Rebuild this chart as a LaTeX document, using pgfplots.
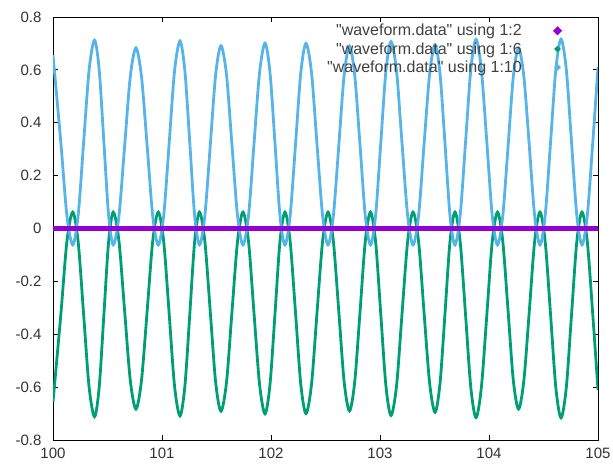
\documentclass[border=0pt]{standalone}
\usepackage{pgfplots}
\pgfplotsset{compat=1.18}
\usepackage{pgfplotstable}
\usepackage{fontspec}
\setmainfont{Liberation Sans}
\usetikzlibrary{calc}

\definecolor{gpPurple}{HTML}{9400D3}
\definecolor{gpGreen}{HTML}{009E73}
\definecolor{gpBlue}{HTML}{56B4E9}

\pgfplotstableread{
x y6 y10
100.000 -0.656 0.656
100.072 -0.325 0.325
100.127 -0.051 0.051
100.181 0.062 -0.062
100.231 -0.051 0.051
100.281 -0.325 0.325
100.331 -0.599 0.599
100.381 -0.712 0.712
100.424 -0.599 0.599
100.467 -0.325 0.325
100.510 -0.051 0.051
100.553 0.062 -0.062
100.605 -0.047 0.047
100.657 -0.311 0.311
100.709 -0.574 0.574
100.761 -0.683 0.683
100.812 -0.574 0.574
100.864 -0.311 0.311
100.915 -0.047 0.047
100.966 0.062 -0.062
101.016 -0.051 0.051
101.066 -0.324 0.324
101.115 -0.596 0.596
101.165 -0.709 0.709
101.210 -0.596 0.596
101.255 -0.324 0.324
101.299 -0.051 0.051
101.344 0.062 -0.062
101.393 -0.048 0.048
101.443 -0.315 0.315
101.492 -0.581 0.581
101.541 -0.691 0.691
101.592 -0.581 0.581
101.642 -0.315 0.315
101.693 -0.048 0.048
101.743 0.062 -0.062
101.794 -0.050 0.050
101.844 -0.320 0.320
101.895 -0.589 0.589
101.945 -0.701 0.701
101.991 -0.589 0.589
102.037 -0.320 0.320
102.082 -0.050 0.050
102.128 0.062 -0.062
102.176 -0.050 0.050
102.225 -0.319 0.319
102.273 -0.588 0.588
102.321 -0.700 0.700
102.372 -0.588 0.588
102.422 -0.319 0.319
102.473 -0.050 0.050
102.523 0.062 -0.062
102.572 -0.048 0.048
102.622 -0.314 0.314
102.671 -0.580 0.580
102.720 -0.690 0.690
102.768 -0.580 0.580
102.817 -0.314 0.314
102.865 -0.048 0.048
102.913 0.062 -0.062
102.960 -0.051 0.051
103.007 -0.323 0.323
103.054 -0.594 0.594
103.101 -0.707 0.707
103.152 -0.594 0.594
103.202 -0.323 0.323
103.253 -0.051 0.051
103.303 0.062 -0.062
103.354 -0.049 0.049
103.404 -0.317 0.317
103.455 -0.584 0.584
103.505 -0.695 0.695
103.551 -0.584 0.584
103.597 -0.317 0.317
103.642 -0.049 0.049
103.688 0.062 -0.062
103.736 -0.052 0.052
103.785 -0.327 0.327
103.833 -0.601 0.601
103.881 -0.715 0.715
103.930 -0.601 0.601
103.980 -0.327 0.327
104.029 -0.052 0.052
104.078 0.062 -0.062
104.126 -0.047 0.047
104.175 -0.311 0.311
104.223 -0.574 0.574
104.271 -0.683 0.683
104.320 -0.574 0.574
104.370 -0.311 0.311
104.419 -0.047 0.047
104.468 0.062 -0.062
104.516 -0.052 0.052
104.565 -0.327 0.327
104.613 -0.602 0.602
104.661 -0.716 0.716
104.709 -0.602 0.602
104.757 -0.327 0.327
104.805 -0.052 0.052
104.853 0.062 -0.062
104.902 -0.050 0.050
104.951 -0.320 0.320
105.000 -0.610 0.610
}\wavedata

\pgfplotstableread{
x y2
100.0 0
100.5 0
101.0 0
101.5 0
102.0 0
102.5 0
103.0 0
103.5 0
104.0 0
104.5 0
105.0 0
}\flatdata

\begin{document}
\begin{tikzpicture}
\begin{axis}[
  scale only axis,
  width=545bp, height=423bp,
  xmin=100, xmax=105, ymin=-0.8, ymax=0.8,
  xtick={100,101,102,103,104,105},
  ytick={-0.8,-0.6,-0.4,-0.2,0,0.2,0.4,0.6,0.8},
  /pgf/number format/assume math mode=true,
  tick label style={font=\fontsize{15bp}{18bp}\selectfont, text=black!80},
  y tick label style={/pgf/number format/fixed, /pgf/number format/precision=1, xshift=-8bp},
  x tick label style={yshift=-5bp},
  tick align=inside,
  major tick length=5bp,
  tick style={black, line width=0.8bp},
  axis line style={black, line width=0.9bp},
  legend plot pos=right,
  legend cell align=right,
  legend style={draw=none, fill=none, at={(rel axis cs:0.933,0.988)}, anchor=north east,
    font=\fontsize{16bp}{18bp}\selectfont, text=black!75, row sep=1.2bp,
    inner sep=0pt},
  legend image code/.code={\path (0bp,0bp) (33bp,0bp); \fill (31.5bp,0bp) circle (1.4bp);},
]
\addplot[color=gpPurple, line width=4.5bp] table[x=x, y=y2] {\flatdata};
\addlegendentry{\textquotedbl waveform.data\textquotedbl{} using 1:2}
\addplot[color=gpGreen, line width=2.8bp, smooth] table[x=x, y=y6] {\wavedata};
\addlegendentry{\textquotedbl waveform.data\textquotedbl{} using 1:6}
\addplot[color=gpBlue, line width=2.8bp, smooth] table[x=x, y=y10] {\wavedata};
\addlegendentry{\textquotedbl waveform.data\textquotedbl{} using 1:10}
\addplot[color=gpPurple, line width=4.5bp, forget plot] table[x=x, y=y2] {\flatdata};
\end{axis}
\pgfresetboundingbox
\path[use as bounding box] ($(current axis.south west)+(-53bp,-25bp)$) rectangle ($(current axis.north east)+(15bp,17bp)$);
\end{tikzpicture}
\end{document}
